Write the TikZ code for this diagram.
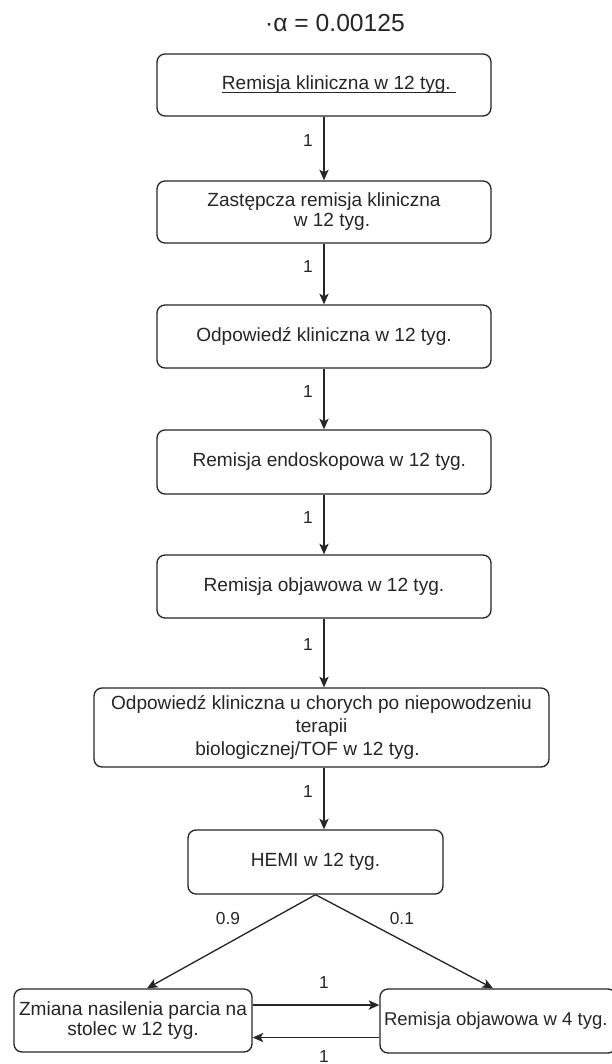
\documentclass[tikz,border=0pt]{standalone}
\usepackage{fontspec}
\setmainfont{Liberation Sans}
\usetikzlibrary{arrows.meta}

% underline drawn just under the baseline, crossing the descenders
\newsavebox\ulsave
\newcommand\ultext[1]{\sbox\ulsave{#1}\rlap{\rule[-2pt]{\wd\ulsave}{0.6pt}}\usebox\ulsave}

\begin{document}
\begin{tikzpicture}[x=0.75pt, y=-0.75pt,
  box/.style={draw=black!85, line width=1pt, rounded corners=6pt, fill=white,
    inner sep=0pt, align=center, text=black!85, font=\fontsize{14.3}{15}\selectfont},
  boxsize/.style 2 args={minimum width=#1*0.75pt, minimum height=#2*0.75pt},
  link/.style={draw=black!85, line width=1pt,
    -{Stealth[length=8pt, width=7pt, inset=2pt]}},
  lbl/.style={text=black!85, font=\fontsize{13}{15}\selectfont, inner sep=0pt}
]
\useasboundingbox (0,0) rectangle (611,1064);

% significance level
\node[text=black!85, font=\fontsize{18.5}{20}\selectfont] (alpha) at (335,23) {·α = 0.00125};

% hierarchy of endpoints
\node[box, boxsize={334}{62}] (b1) at (324,85)
  {\hspace*{22.5pt}\ultext{Remisja kliniczna w 12 tyg.\ }};
\node[box, boxsize={334}{62}] (b2) at (324,212)
  {Zastępcza remisja kliniczna\\\hspace*{12pt}w 12 tyg.};
\node[box, boxsize={334}{63}] (b3) at (324,336.5)
  {Odpowiedź kliniczna w 12 tyg.};
\node[box, boxsize={334}{64}] (b4) at (324,462)
  {\hspace*{8pt}Remisja endoskopowa w 12 tyg.};
\node[box, boxsize={334}{63}] (b5) at (324,586.5)
  {Remisja objawowa w 12 tyg.};
\node[box, boxsize={455}{79}, font=\fontsize{14.3}{17}\selectfont] (b6) at (321.5,727.5)
  {Odpowiedź kliniczna u chorych po niepowodzeniu\\terapii\\biologicznej/TOF w 12 tyg.\hspace*{21pt}};
\node[box, boxsize={255}{64}] (hemi) at (315.5,862)
  {HEMI w 12 tyg.};
\node[box, boxsize={238}{63}] (zl) at (133,1020.5)
  {Zmiana nasilenia parcia na\\stolec w 12 tyg.};
\node[box, boxsize={236}{64}, font=\fontsize{13.9}{15}\selectfont] (rr) at (498,1021)
  {\makebox[171pt][l]{Remisja objawowa w 4 tyg.}};

% vertical chain
\draw[link] (b1.south) -- (b2.north) node[lbl, pos=.38, xshift=-12pt] {1};
\draw[link] (b2.south) -- (b3.north) node[lbl, pos=.38, xshift=-12pt] {1};
\draw[link] (b3.south) -- (b4.north) node[lbl, pos=.38, xshift=-12pt] {1};
\draw[link] (b4.south) -- (b5.north) node[lbl, pos=.38, xshift=-12pt] {1};
\draw[link] (b5.south) -- (b6.north -| b5.south) node[lbl, pos=.38, xshift=-12pt] {1};
\draw[link] (b6.south -| b1.south) -- (hemi.north -| b1.south) node[lbl, pos=.38, xshift=-12pt] {1};

% split after HEMI
\draw[link] (hemi.south) -- ([xshift=10.5pt]zl.north) node[lbl, pos=.25, xshift=-34pt] {0.9};
\draw[link] (hemi.south) -- ([xshift=-3.75pt]rr.north) node[lbl, pos=.25, xshift=31.5pt] {0.1};

% exchange between the last two endpoints
\draw[link] ([yshift=11.6pt]zl.east) -- ([yshift=11.6pt]zl.east -| rr.west)
  node[lbl, midway, yshift=17pt, xshift=6pt] {1};
\draw[link] ([yshift=-12.4pt]rr.west) -- ([yshift=-12.4pt]rr.west -| zl.east)
  node[lbl, midway, yshift=-14pt, xshift=6pt] {1};
\end{tikzpicture}
\end{document}
